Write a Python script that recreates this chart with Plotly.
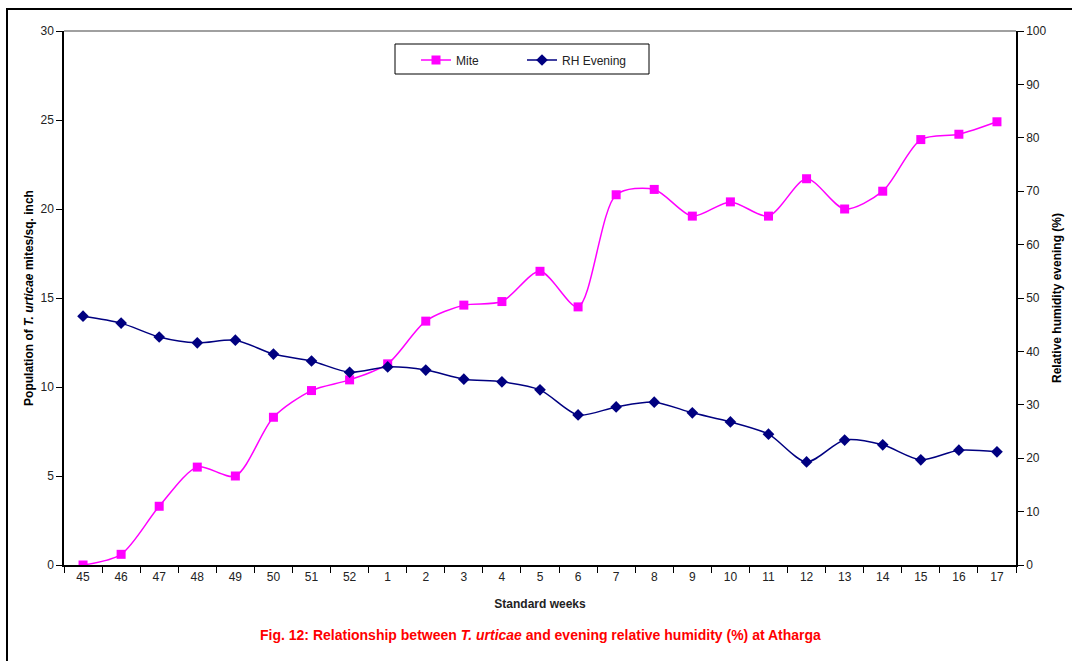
import plotly.graph_objects as go

weeks = ["45", "46", "47", "48", "49", "50", "51", "52", "1", "2", "3", "4", "5",
         "6", "7", "8", "9", "10", "11", "12", "13", "14", "15", "16", "17"]
mite = [0.0, 0.6, 3.3, 5.5, 5.0, 8.3, 9.8, 10.4, 11.3, 13.7, 14.6, 14.8, 16.5,
        14.5, 20.8, 21.1, 19.6, 20.4, 19.6, 21.7, 20.0, 21.0, 23.9, 24.2, 24.9]
rh_evening = [46.6, 45.3, 42.7, 41.6, 42.1, 39.5, 38.2, 36.1, 37.1, 36.5, 34.8, 34.3, 32.8,
              28.1, 29.6, 30.5, 28.5, 26.8, 24.5, 19.3, 23.4, 22.5, 19.7, 21.5, 21.2]

FONT = "Liberation Sans, Arial, sans-serif"
W, H = 1072, 661
L, R, T, B = 64, 56, 31, 96
PW, PH = W - L - R, H - T - B


def px_x(px):
    return (px - L) / PW


def px_y(py):
    return (H - B - py) / PH


fig = go.Figure()
fig.add_trace(go.Scatter(
    x=weeks, y=mite, name="Mite", mode="lines+markers",
    line=dict(color="#FF00FF", width=1.5, shape="spline", smoothing=0.8),
    marker=dict(symbol="square", size=9, color="#FF00FF"),
    yaxis="y",
))
fig.add_trace(go.Scatter(
    x=weeks, y=rh_evening, name="RH Evening", mode="lines+markers",
    line=dict(color="#000080", width=1.5, shape="spline", smoothing=0.8),
    marker=dict(symbol="diamond", size=9, color="#000080"),
    yaxis="y2",
))

fig.update_layout(
    width=W, height=H,
    margin=dict(l=L, r=R, t=T, b=B),
    paper_bgcolor="white", plot_bgcolor="white",
    font=dict(family=FONT, size=12, color="#222"),
    showlegend=True,
    legend=dict(
        orientation="h", x=px_x(416), y=px_y(60), xanchor="left", yanchor="middle",
        bgcolor="rgba(0,0,0,0)", borderwidth=0,
        font=dict(family=FONT, size=12, color="#222"),
        itemwidth=30, entrywidth=61, tracegroupgap=0,
    ),
    xaxis=dict(
        type="category", categoryorder="array", categoryarray=weeks,
        range=[-0.5, len(weeks) - 0.5], automargin=False,
        showline=True, linecolor="black", linewidth=1.5,
        ticks="outside", tickson="boundaries", ticklen=6, tickcolor="black",
        showgrid=False, zeroline=False,
        tickfont=dict(family=FONT, size=12, color="#222"),
        title=dict(text="<b>Standard weeks</b>", font=dict(family=FONT, size=12, color="#222"), standoff=16),
    ),
    yaxis=dict(
        range=[0, 30], dtick=5, automargin=False,
        showline=True, linecolor="black", linewidth=1.5,
        ticks="outside", ticklen=6, tickcolor="black", showgrid=False, zeroline=False,
        tickfont=dict(family=FONT, size=12, color="#222"),
        title=dict(text="<b>Population of <i>T. urticae</i> mites/sq. inch</b>",
                   font=dict(family=FONT, size=12, color="#000"), standoff=4),
    ),
    yaxis2=dict(
        range=[0, 100], dtick=10, overlaying="y", side="right", automargin=False,
        showline=True, linecolor="black", linewidth=1.5,
        ticks="outside", ticklen=6, tickcolor="black", showgrid=False, zeroline=False,
        tickfont=dict(family=FONT, size=12, color="#222"),
        title=dict(text="<b>Relative humidity evening (%)</b>",
                   font=dict(family=FONT, size=12, color="#000"), standoff=7),
    ),
)

# top edge of the plotting area
fig.add_shape(type="line", xref="paper", yref="paper", x0=0, x1=1, y0=1, y1=1,
              line=dict(color="#808080", width=1.5))
# legend frame
fig.add_shape(type="rect", xref="paper", yref="paper",
              x0=px_x(395), x1=px_x(649), y0=px_y(74), y1=px_y(44),
              line=dict(color="black", width=1), fillcolor="white", layer="below")
# outer figure frame
fig.add_shape(type="rect", xref="paper", yref="paper",
              x0=px_x(7), x1=1.2, y0=-0.5, y1=px_y(9),
              line=dict(color="black", width=2), layer="below")

fig.add_annotation(
    text="<b>Fig. 12: Relationship between <i>T. urticae</i> and evening relative humidity (%) at Atharga</b>",
    xref="paper", yref="paper", x=px_x(540), y=px_y(635),
    xanchor="center", yanchor="middle", showarrow=False,
    font=dict(family=FONT, size=14, color="#FF0000"),
)

fig.write_html("out.html")
